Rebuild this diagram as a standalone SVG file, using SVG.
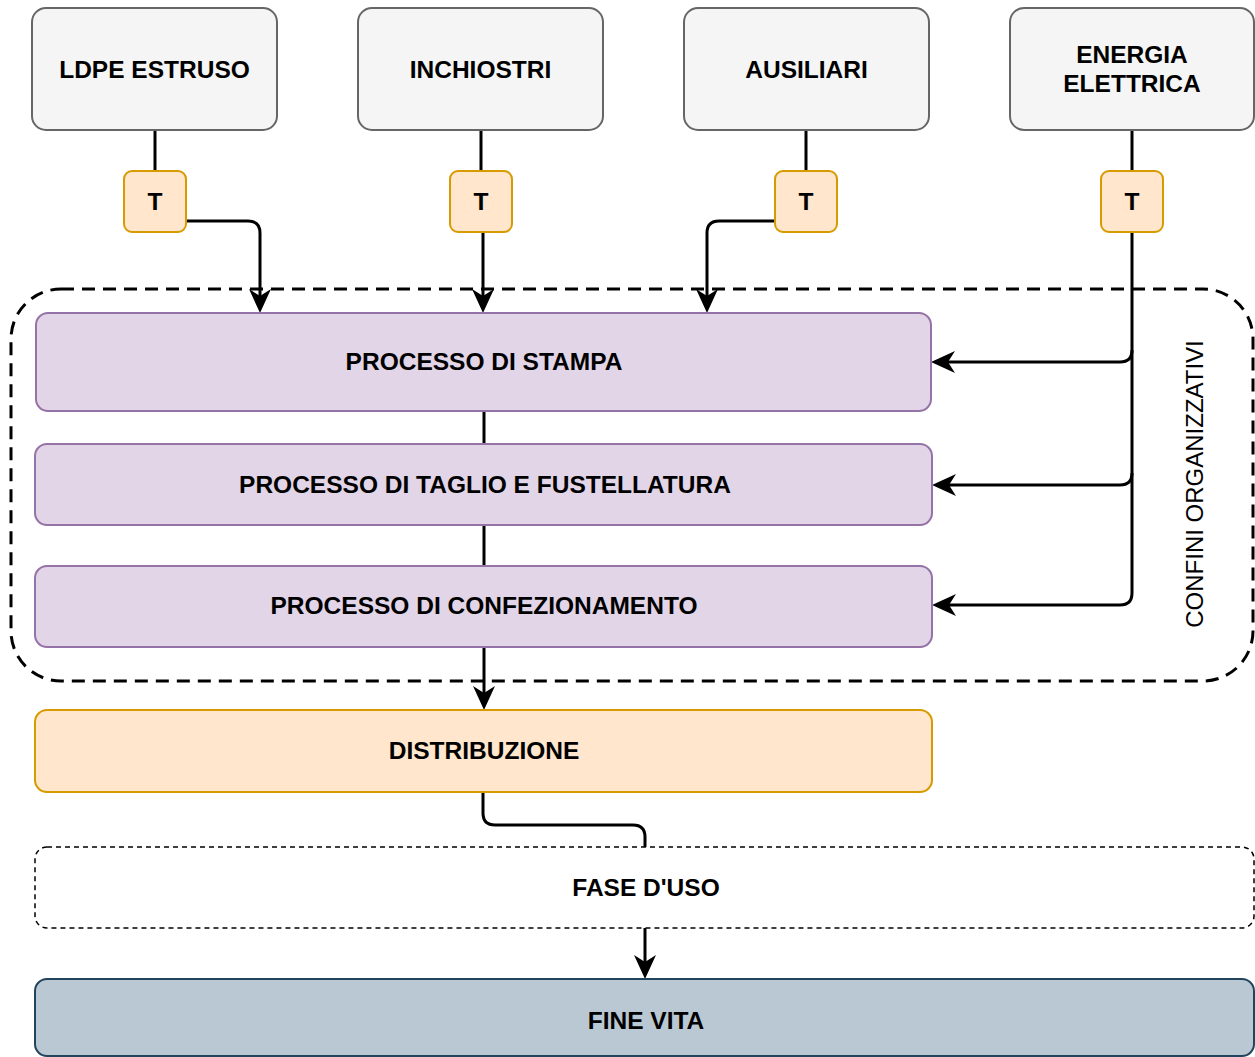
<svg xmlns="http://www.w3.org/2000/svg" width="1255" height="1057" viewBox="0 0 1255 1057">
<style>
text{font-family:"Liberation Sans",Arial,sans-serif;font-size:24.5px;font-weight:bold;fill:#000;text-anchor:middle}
.src{fill:#f5f5f5;stroke:#666666;stroke-width:2}
.t{fill:#ffe6cc;stroke:#d79b00;stroke-width:2}
.proc{fill:#e1d5e7;stroke:#9673a6;stroke-width:2}
.dist{fill:#ffe6cc;stroke:#d79b00;stroke-width:2}
.uso{fill:#ffffff;stroke:#000;stroke-width:1.5;stroke-dasharray:5 4}
.fine{fill:#bac8d3;stroke:#23445d;stroke-width:2}
.bound{fill:none;stroke:#000;stroke-width:3;stroke-dasharray:13 8}
.c{fill:none;stroke:#000;stroke-width:3}
.a{marker-end:url(#arr)}
.lbl{font-weight:normal;font-size:24px}
</style>
<defs>
<marker id="arr" markerUnits="userSpaceOnUse" markerWidth="26" markerHeight="24" refX="7" refY="11" orient="auto">
<path d="M0,0 L24,11 L0,22 L7,11 z" fill="#000"/>
</marker>
</defs>

<g id="boundary">
<rect class="bound" x="11" y="289" width="1242" height="392" rx="50" ry="50"/>
<text class="lbl" transform="translate(1203,484) rotate(-90)">CONFINI ORGANIZZATIVI</text>
</g>

<g id="connectors">
<path class="c" d="M155,130 V171"/>
<path class="c a" d="M186,221 H248 Q260,221 260,233 V296"/>
<path class="c" d="M481,130 V171"/>
<path class="c a" d="M483,232 V296"/>
<path class="c" d="M806,130 V171"/>
<path class="c a" d="M775,221 H719 Q707,221 707,233 V296"/>
<path class="c" d="M1132,130 V171"/>
<path class="c a" d="M1132,232 V593 Q1132,605 1120,605 H949"/>
<path class="c a" d="M1132,350 Q1132,362 1120,362 H948"/>
<path class="c a" d="M1132,473 Q1132,485 1120,485 H949"/>
<path class="c" d="M484,411 V444"/>
<path class="c" d="M484,525 V566"/>
<path class="c a" d="M484,647 V693"/>
<path class="c" d="M483,792 V813 Q483,825 495,825 H633 Q645,825 645,837 V847"/>
<path class="c a" d="M645,928 V962"/>
</g>

<g id="ldpe"><rect class="src" x="32" y="8" width="245" height="122" rx="14"/><text x="154.5" y="78">LDPE ESTRUSO</text></g>
<g id="inchiostri"><rect class="src" x="358" y="8" width="245" height="122" rx="14"/><text x="480.5" y="78">INCHIOSTRI</text></g>
<g id="ausiliari"><rect class="src" x="684" y="8" width="245" height="122" rx="14"/><text x="806.5" y="78">AUSILIARI</text></g>
<g id="energia"><rect class="src" x="1010" y="8" width="244" height="122" rx="14"/><text x="1132" y="63">ENERGIA</text><text x="1132" y="92">ELETTRICA</text></g>

<g id="t1"><rect class="t" x="124" y="171" width="62" height="61" rx="8"/><text x="155" y="210">T</text></g>
<g id="t2"><rect class="t" x="450" y="171" width="62" height="61" rx="8"/><text x="481" y="210">T</text></g>
<g id="t3"><rect class="t" x="775" y="171" width="62" height="61" rx="8"/><text x="806" y="210">T</text></g>
<g id="t4"><rect class="t" x="1101" y="171" width="62" height="61" rx="8"/><text x="1132" y="210">T</text></g>

<g id="stampa"><rect class="proc" x="36" y="313" width="895" height="98" rx="12"/><text x="484" y="370">PROCESSO DI STAMPA</text></g>
<g id="taglio"><rect class="proc" x="35" y="444" width="897" height="81" rx="12"/><text x="485" y="493">PROCESSO DI TAGLIO E FUSTELLATURA</text></g>
<g id="confezionamento"><rect class="proc" x="35" y="566" width="897" height="81" rx="12"/><text x="484" y="614">PROCESSO DI CONFEZIONAMENTO</text></g>
<g id="distribuzione"><rect class="dist" x="35" y="710" width="897" height="82" rx="12"/><text x="484" y="759">DISTRIBUZIONE</text></g>
<g id="fase"><rect class="uso" x="35" y="847" width="1219" height="81" rx="12"/><text x="646" y="896">FASE D'USO</text></g>
<g id="fine"><rect class="fine" x="35" y="979" width="1219" height="77" rx="12"/><text x="646" y="1029">FINE VITA</text></g>
</svg>
